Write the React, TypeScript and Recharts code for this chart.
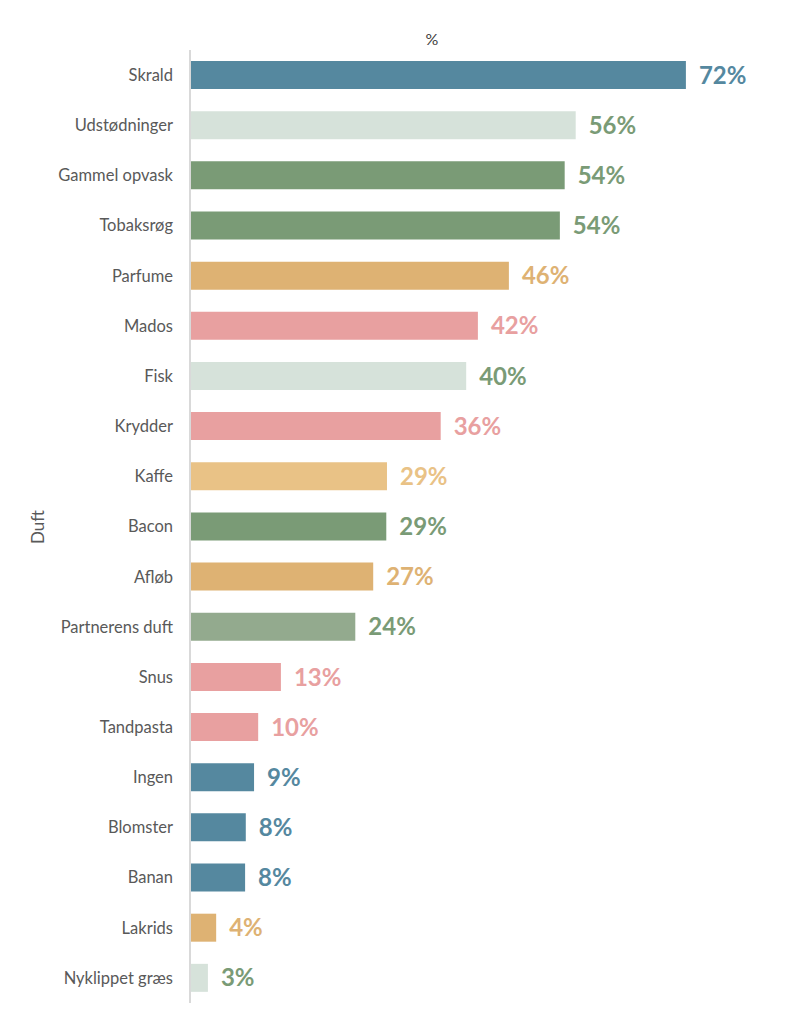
import React from "react";
import {
  BarChart,
  Bar,
  XAxis,
  YAxis,
  Cell,
  LabelList,
  Label,
} from "recharts";

const categories = [
  "Skrald",
  "Udstødninger",
  "Gammel opvask",
  "Tobaksrøg",
  "Parfume",
  "Mados",
  "Fisk",
  "Krydder",
  "Kaffe",
  "Bacon",
  "Afløb",
  "Partnerens duft",
  "Snus",
  "Tandpasta",
  "Ingen",
  "Blomster",
  "Banan",
  "Lakrids",
  "Nyklippet græs",
];

const shares = [
  72.0, 56.0, 54.4, 53.7, 46.3, 41.8, 40.1, 36.4, 28.6, 28.5, 26.6, 24.0, 13.2,
  9.9, 9.3, 8.1, 8.0, 3.8, 2.6,
];

// palette
const BLUE = "#55889f";
const PALE = "#d6e2da";
const GREEN = "#7a9b76";
const ORANGE = "#deb273";
const PINK = "#e8a0a0";
const LIGHT_ORANGE = "#e9c286";
const SAGE = "#93aa8e";

const barColors = [
  BLUE, PALE, GREEN, GREEN, ORANGE, PINK, PALE, PINK, LIGHT_ORANGE, GREEN,
  ORANGE, SAGE, PINK, PINK, BLUE, BLUE, BLUE, ORANGE, PALE,
];

const labelColors = barColors.map((c) =>
  c === PALE || c === SAGE ? GREEN : c
);

const data = categories.map((name, i) => ({ name, value: shares[i] }));

const FONT = "Lato, 'Open Sans', sans-serif";

const ValueLabel = (props: any) => {
  const { x, y, width, height, value, index } = props;
  return (
    <text
      x={Number(x) + Number(width) + 13}
      y={Number(y) + Number(height) / 2}
      dy="0.36em"
      fill={labelColors[index]}
      fontSize={24}
      fontWeight={700}
      fontFamily={FONT}
    >
      {Math.round(Number(value))}%
    </text>
  );
};

export default function App() {
  return (
    <div
      style={{
        position: "absolute",
        left: 0,
        top: 0,
        width: 789,
        height: 1024,
        background: "#fff",
        fontFamily: FONT,
      }}
    >
      <div
        style={{
          position: "absolute",
          left: 432,
          top: 29,
          transform: "translateX(-50%)",
          fontSize: 16,
          color: "#404040",
        }}
      >
        %
      </div>
      <BarChart
        width={789}
        height={1024}
        data={data}
        layout="vertical"
        margin={{ top: 50, right: 48, bottom: 21, left: 0 }}
        barCategoryGap={22}
      >
        <XAxis type="number" domain={[0, 80]} hide />
        <YAxis
          type="category"
          dataKey="name"
          width={190}
          tickLine={false}
          tickMargin={11}
          axisLine={{ stroke: "#d9d9d9", strokeWidth: 2 }}
          tick={{ fill: "#595959", fontSize: 16.5, fontFamily: FONT }}
          interval={0}
        >
          <Label
            content={() => (
              <text
                x={38}
                y={527}
                transform="rotate(-90, 38, 527)"
                textAnchor="middle"
                dy="0.36em"
                fill="#595959"
                fontSize={17}
                fontFamily={FONT}
              >
                Duft
              </text>
            )}
          />
        </YAxis>
        <Bar dataKey="value" barSize={28} isAnimationActive={false}>
          {data.map((_, i) => (
            <Cell key={`c-${i}`} fill={barColors[i]} />
          ))}
          <LabelList dataKey="value" content={ValueLabel} />
        </Bar>
      </BarChart>
    </div>
  );
}
